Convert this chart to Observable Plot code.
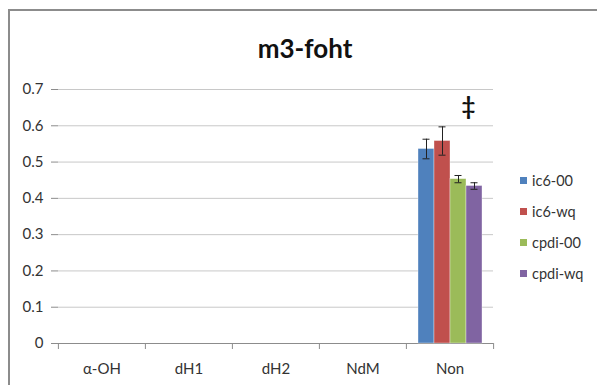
<!DOCTYPE html>
<html>
<head>
<meta charset="utf-8">
<script src="https://cdn.jsdelivr.net/npm/d3@7"></script>
<script src="https://cdn.jsdelivr.net/npm/@observablehq/plot@0.6"></script>
<style>
  html, body { margin: 0; padding: 0; background: #fff; }
  #wrap { position: relative; width: 597px; height: 385px; overflow: hidden; background: #fff; font-family: Lato, "Open Sans", sans-serif; }
  #border { position: absolute; left: 8px; top: 9px; width: 700px; height: 500px; border-left: 2px solid #8c8c8c; border-top: 2px solid #8c8c8c; }
  #title { position: absolute; left: 0; width: 610px; top: 35px; line-height: 1; text-align: center; font-weight: bold; font-size: 26px; color: #111; }
  #chart { position: absolute; left: 0; top: 0; }
  #legend { position: absolute; left: 520px; top: 164.5px; font-size: 14.5px; color: #333; }
  .item { height: 31px; display: flex; align-items: center; }
  .sw { width: 7px; height: 7px; margin-right: 5px; }
</style>
</head>
<body>
<div id="wrap">
  <div id="border"></div>
  <div id="chart"></div>
  <div id="title"></div>
  <div id="legend"></div>
</div>
<script>
const title = "m3-foht";
const categories = ["α-OH", "dH1", "dH2", "NdM", "Non"];
const series = ["ic6-00", "ic6-wq", "cpdi-00", "cpdi-wq"];
const colors = ["#4F81BD", "#C0504D", "#9BBB59", "#8064A2"];
const barCategory = ["Non", "Non", "Non", "Non"];
const barSeries = ["ic6-00", "ic6-wq", "cpdi-00", "cpdi-wq"];
const barValues = [0.536, 0.558, 0.453, 0.434];
const barErrors = [0.027, 0.039, 0.010, 0.009];
const yTicks = [0, 0.1, 0.2, 0.3, 0.4, 0.5, 0.6, 0.7];
const noteCategory = ["Non"];
const noteSeries = ["cpdi-wq"];
const noteLabels = ["‡"];
const noteValues = [0.65];

const bars = barValues.map((v, i) => ({
  category: barCategory[i], series: barSeries[i], value: v,
  lo: v - barErrors[i], hi: v + barErrors[i]
}));
const notes = noteLabels.map((t, i) => ({category: noteCategory[i], series: noteSeries[i], label: t, value: noteValues[i]}));

const W = 597, H = 385, ML = 57, MR = 104;
const bandHalf = (W - ML - MR) / categories.length / 2;
const FONT = "Lato, 'Open Sans', sans-serif";

const plot = Plot.plot({
  width: W, height: H,
  marginLeft: ML, marginRight: MR, marginTop: 89, marginBottom: 42,
  style: {fontFamily: FONT, fontSize: "15px", color: "#333", background: "transparent"},
  fx: {domain: categories, padding: 0, label: null},
  x: {domain: series, paddingInner: 0, paddingOuter: 0.69, axis: null},
  y: {domain: [0, 0.7], label: null},
  color: {domain: series, range: colors},
  marks: [
    Plot.gridY(yTicks, {stroke: "#c8c8c8", strokeOpacity: 1}),
    Plot.ruleY(categories, {fx: d => d, y: () => 0, stroke: "#8c8c8c"}),
    Plot.axisY({ticks: yTicks, tickSize: 7, tickPadding: 8, stroke: "#8c8c8c", fill: "#333", fontSize: 15, tickFormat: d => d === 0 ? "0" : d3.format(".1f")(d), label: null}),
    Plot.axisFx({anchor: "bottom", tickSize: 0, tickPadding: 20, fill: "#333", fontSize: 15, label: null}),
    Plot.axisFx({anchor: "bottom", tickSize: 6, tickFormat: () => "", stroke: "#8c8c8c", dx: -bandHalf, label: null}),
    Plot.axisFx({anchor: "bottom", ticks: [categories[categories.length - 1]], tickSize: 6, tickFormat: () => "", stroke: "#8c8c8c", dx: bandHalf, label: null}),
    Plot.barY(bars, {fx: "category", x: "series", y: "value", fill: "series", stroke: "#fff", strokeOpacity: 0.5, strokeWidth: 0.7, inset: 0}),
    Plot.ruleX(bars, {fx: "category", x: "series", y1: "lo", y2: "hi", stroke: "#222", strokeWidth: 1}),
    Plot.tickY(bars, {fx: "category", x: "series", y: "lo", stroke: "#222", insetLeft: 4.5, insetRight: 4.5}),
    Plot.tickY(bars, {fx: "category", x: "series", y: "hi", stroke: "#222", insetLeft: 4.5, insetRight: 4.5}),
    Plot.text(notes, {fx: "category", x: "series", y: "value", text: "label", dx: -6, fontSize: 24, fontWeight: "bold", fill: "#111"})
  ]
});
document.getElementById("chart").appendChild(plot);
document.getElementById("title").textContent = title;
const lg = document.getElementById("legend");
series.forEach((s, i) => {
  const d = document.createElement("div");
  d.className = "item";
  d.innerHTML = `<span class="sw" style="background:${colors[i]}"></span><span>${s}</span>`;
  lg.appendChild(d);
});
</script>
</body>
</html>
